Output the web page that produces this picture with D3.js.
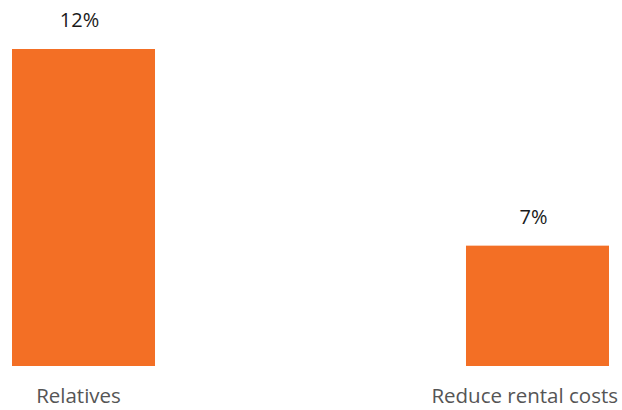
<!DOCTYPE html>
<html><head><meta charset="utf-8">
<script src="https://cdn.jsdelivr.net/npm/d3@7"></script>
<style>body{margin:0;background:#fff}svg{display:block}</style>
</head><body>
<script>
const categories = ["Relatives", "Reduce rental costs"];
const values = [12, 7];
const valueLabels = ["12%", "7%"];

const W = 622, H = 410;
const svg = d3.select("body").append("svg").attr("width", W).attr("height", H);

const x = d3.scaleBand().domain(categories).range([12, 609]).paddingInner(0.685).paddingOuter(0);
const y = d3.scaleLinear().domain([3.94, 12]).range([366, 49]);

svg.selectAll("rect.bar").data(values).join("rect")
  .attr("class", "bar")
  .attr("x", (d, i) => x(categories[i]))
  .attr("width", x.bandwidth())
  .attr("y", d => y(d))
  .attr("height", d => y(y.domain()[0]) - y(d))
  .attr("fill", "#F36F25");

svg.selectAll("text.val").data(values).join("text")
  .attr("class", "val")
  .attr("x", (d, i) => x(categories[i]) + x.bandwidth() / 2 - 4)
  .attr("y", d => y(d) - 22)
  .attr("text-anchor", "middle")
  .attr("font-family", "'Open Sans', sans-serif")
  .attr("font-size", 20)
  .attr("fill", "#1a1a1a")
  .text((d, i) => valueLabels[i]);

const cat = svg.selectAll("text.cat").data(categories).join("text")
  .attr("class", "cat")
  .attr("x", d => x(d) + x.bandwidth() / 2 - 5)
  .attr("y", 403)
  .attr("text-anchor", "middle")
  .attr("font-family", "'Open Sans', sans-serif")
  .attr("font-size", 20.5)
  .attr("fill", "#555")
  .text(d => d);

cat.each(function () {
  const b = this.getBBox();
  if (b.x + b.width > W - 4) {
    d3.select(this).attr("x", +d3.select(this).attr("x") - (b.x + b.width - (W - 4)));
  }
});
</script>
</body></html>
